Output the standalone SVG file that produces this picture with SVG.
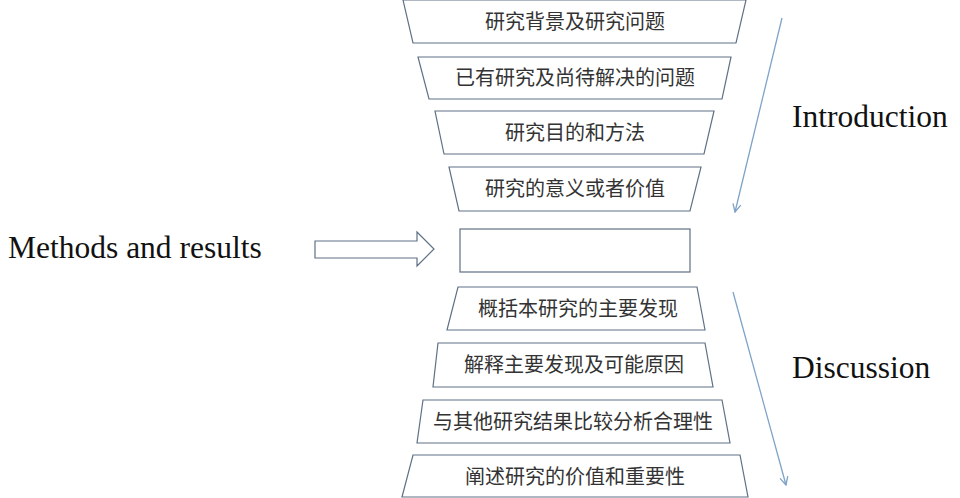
<svg xmlns="http://www.w3.org/2000/svg" width="960" height="498" viewBox="0 0 960 498">
<style>
.b{fill:#fff;stroke:#5f7185;stroke-width:1.2}
.t{font-family:"Noto Sans CJK SC",sans-serif;font-size:20px;fill:#333;text-anchor:middle}
.e{font-family:"Liberation Serif",serif;font-size:31.5px;fill:#111}
.c{stroke:#7fa3c8;stroke-width:1.3;fill:none}
</style>
<defs><marker id="a" markerWidth="10" markerHeight="10" refX="9" refY="5" orient="auto" markerUnits="userSpaceOnUse"><path d="M1,1 L9,5 L1,9" fill="none" stroke="#7fa3c8" stroke-width="1.3"/></marker></defs>
<rect width="960" height="498" fill="#fff"/>
<g id="n1"><polygon class="b" points="403,0 746,0 736,43 413,43"/><text class="t" x="575" y="29">研究背景及研究问题</text></g>
<g id="n2"><polygon class="b" points="418,57 731,57 722,99 429,99"/><text class="t" x="575" y="85">已有研究及尚待解决的问题</text></g>
<g id="n3"><polygon class="b" points="435,111 714,111 704,154 444,154"/><text class="t" x="575" y="140">研究目的和方法</text></g>
<g id="n4"><polygon class="b" points="449,167 701,167 690,211 459,211"/><text class="t" x="575" y="196">研究的意义或者价值</text></g>
<g id="n5"><rect class="b" x="460" y="229" width="230" height="43"/></g>
<g id="n6"><polygon class="b" points="458,287 697,287 705,330 447,330"/><text class="t" x="578" y="316">概括本研究的主要发现</text></g>
<g id="n7"><polygon class="b" points="438,343 705,343 713,387 433,387"/><text class="t" x="574" y="372">解释主要发现及可能原因</text></g>
<g id="n8"><polygon class="b" points="423,400 722,400 730,443 417,443"/><text class="t" x="573" y="429">与其他研究结果比较分析合理性</text></g>
<g id="n9"><polygon class="b" points="413,455 740,455 748,497 402,497"/><text class="t" x="575" y="484">阐述研究的价值和重要性</text></g>
<g id="n10"><polygon class="b" points="315,241 417,241 417,232 434,249 417,266 417,258 315,258"/></g>
<text class="e" x="792" y="127">Introduction</text>
<text class="e" x="792" y="378">Discussion</text>
<text class="e" x="8" y="258">Methods and results</text>
<g id="connectors">
<line class="c" x1="782" y1="18" x2="735" y2="212" marker-end="url(#a)"/>
<line class="c" x1="733" y1="292" x2="786" y2="485" marker-end="url(#a)"/>
</g>
</svg>
